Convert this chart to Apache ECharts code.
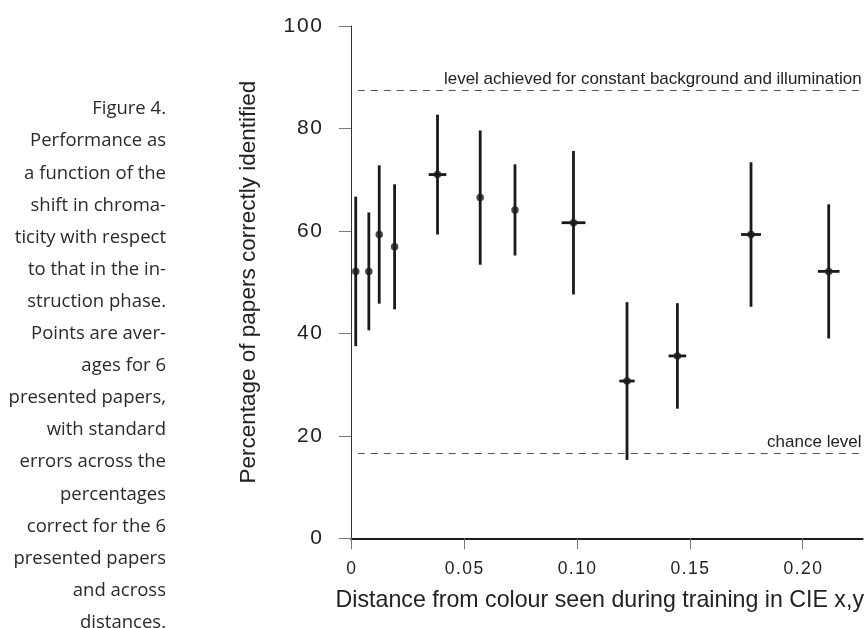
<!DOCTYPE html>
<html>
<head>
<meta charset="utf-8">
<script src="https://cdn.jsdelivr.net/npm/echarts@6/dist/echarts.min.js"></script>
<style>
  html, body { margin: 0; padding: 0; background: #fff; }
  #chart { width: 867px; height: 628px; }
</style>
</head>
<body>
<div id="chart"></div>
<script>
// Distance (CIE x,y) of the test colour from the training colour
const distance = [0.0021, 0.0079, 0.0125, 0.0193, 0.0383, 0.0572, 0.0726, 0.0985, 0.1222, 0.1445, 0.1771, 0.2115];
// Mean percentage of papers correctly identified
const percentCorrect = [52.1, 52.1, 59.3, 56.9, 71.0, 66.5, 64.1, 61.6, 30.7, 35.6, 59.3, 52.1];
// Standard error across the 6 presented papers
const stdError = [14.6, 11.5, 13.5, 12.2, 11.7, 13.1, 8.9, 14.0, 15.4, 10.3, 14.1, 13.1];
// Standard error across distances (horizontal bars)
const distanceError = [0, 0, 0, 0, 0.0039, 0, 0, 0.0053, 0.0034, 0.0039, 0.0044, 0.0048];

const xTicks = [0, 0.05, 0.10, 0.15, 0.20];
const xTickLabels = ['0', '0.05', '0.10', '0.15', '0.20'];
const yTickLabels = ['0', '20', '40', '60', '80', '100'];

const constantLevel = 87.5;
const chanceLevel = 100 / 6;
const constantLabel = 'level achieved for constant background and illumination';
const chanceLabel = 'chance level';

const caption = [
  'Figure 4.',
  'Performance as',
  'a function of the',
  'shift in chroma-',
  'ticity with respect',
  'to that in the in-',
  'struction phase.',
  'Points are aver-',
  'ages for 6',
  'presented papers,',
  'with standard',
  'errors across the',
  'percentages',
  'correct for the 6',
  'presented papers',
  'and across',
  'distances.'
];

const ink = '#1a1a1a';
const xMax = 0.2265;
const spaced = s => s.split('').join('\u200A');

const chart = echarts.init(document.getElementById('chart'), null, { renderer: 'canvas' });

const errData = distance.map((d, i) => [d, percentCorrect[i], stdError[i], distanceError[i]]);
const pointData = distance.map((d, i) => [d, percentCorrect[i]]);

// dashed reference level running from just right of the y axis to the plot edge
const refLine = (level, text) => [
  { coord: [0.003, level], label: { formatter: text } },
  { coord: [xMax, level] }
];

chart.setOption({
  animation: false,
  textStyle: { fontFamily: '"Liberation Sans", Arial, sans-serif' },
  grid: { left: 351, top: 26, width: 514.9, height: 512.3, containLabel: false },
  xAxis: {
    type: 'value',
    min: 0,
    max: xMax,
    interval: 0.05,
    name: 'Distance from colour seen during training in CIE x,y',
    nameLocation: 'middle',
    nameGap: 51,
    nameTextStyle: { fontSize: 23.2, color: '#222', padding: [0, 14, 0, 0] },
    axisLine: { show: true, onZero: false, lineStyle: { color: ink, width: 2 } },
    axisTick: { show: true, customValues: xTicks, length: 11, lineStyle: { color: '#777', width: 1 } },
    axisLabel: {
      customValues: xTicks,
      margin: 22,
      fontSize: 17.5,
      color: '#222',
      formatter: v => spaced(xTickLabels[xTicks.findIndex(t => Math.abs(t - v) < 1e-9)] ?? String(v))
    },
    splitLine: { show: false }
  },
  yAxis: {
    type: 'value',
    min: 0,
    max: 100,
    interval: 20,
    name: 'Percentage of papers correctly identified',
    nameLocation: 'middle',
    nameRotate: 90,
    nameGap: 91,
    nameTextStyle: { fontSize: 22.5, color: '#222' },
    axisLine: { show: true, lineStyle: { color: '#333', width: 1 } },
    axisTick: { show: true, length: 12, lineStyle: { color: '#777', width: 1 } },
    axisLabel: {
      margin: 29,
      fontSize: 21,
      color: '#222',
      formatter: v => spaced(yTickLabels[Math.round(v / 20)])
    },
    splitLine: { show: false }
  },
  graphic: [{
    type: 'text',
    x: 166,
    y: 93,
    style: {
      text: caption.join('\n'),
      textAlign: 'right',
      textVerticalAlign: 'top',
      font: '18.5px "Open Sans", sans-serif',
      lineHeight: 32.1,
      fill: '#2a2a2a'
    }
  }],
  series: [
    {
      type: 'custom',
      name: 'error bars',
      data: errData,
      encode: { x: 0, y: 1 },
      clip: false,
      z: 3,
      renderItem: (params, api) => {
        const x = api.value(0), y = api.value(1), e = api.value(2), dx = api.value(3);
        const top = api.coord([x, y + e]);
        const bot = api.coord([x, y - e]);
        const style = { stroke: ink, lineWidth: 2.8 };
        const children = [{ type: 'line', shape: { x1: top[0], y1: top[1], x2: bot[0], y2: bot[1] }, style }];
        if (dx > 0) {
          const l = api.coord([x - dx, y]);
          const r = api.coord([x + dx, y]);
          children.push({ type: 'line', shape: { x1: l[0], y1: l[1], x2: r[0], y2: r[1] }, style });
        }
        return { type: 'group', children };
      }
    },
    {
      type: 'scatter',
      name: 'mean',
      data: pointData,
      symbol: 'circle',
      symbolSize: 7.5,
      itemStyle: { color: ink },
      z: 4,
      markLine: {
        silent: true,
        symbol: ['none', 'none'],
        lineStyle: { color: '#555', width: 1, type: [7, 6] },
        label: {
          show: true,
          position: 'insideEndTop',
          distance: [1, 2],
          fontSize: 17,
          color: '#222'
        },
        data: [refLine(constantLevel, constantLabel), refLine(chanceLevel, chanceLabel)]
      }
    }
  ]
});
</script>
</body>
</html>
